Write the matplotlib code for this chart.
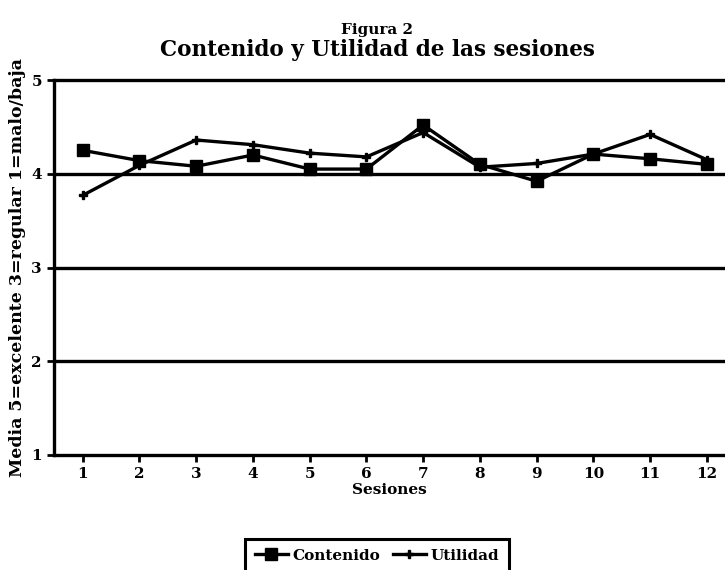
import matplotlib.pyplot as plt

plt.rcParams['font.family'] = ['DejaVu Serif']
plt.rcParams['font.weight'] = 'bold'

sesiones = [1, 2, 3, 4, 5, 6, 7, 8, 9, 10, 11, 12]
contenido = [4.25, 4.14, 4.08, 4.20, 4.05, 4.05, 4.52, 4.10, 3.92, 4.21, 4.16, 4.10]
utilidad = [3.77, 4.09, 4.36, 4.31, 4.22, 4.18, 4.44, 4.07, 4.11, 4.21, 4.42, 4.15]
y_ticks = [1, 2, 3, 4, 5]

fig = plt.figure(figsize=(7.25, 5.7), dpi=100)
ax = fig.add_axes([0.075, 0.2018, 0.925, 0.6578])

# lineas horizontales de referencia
for yv in [2, 3, 4]:
    ax.axhline(yv, color='black', lw=2.4, zorder=1)

ax.plot(sesiones, contenido, color='black', lw=2.4, marker='s', ms=8,
        zorder=3, label='Contenido')
ax.plot(sesiones, utilidad, color='black', lw=2.4, marker='P', ms=6,
        zorder=3, label='Utilidad')

ax.set_xlim(0.5, 12.32)
ax.set_ylim(1, 5)
ax.set_xticks(sesiones)
ax.set_yticks(y_ticks)
ax.tick_params(axis='both', direction='out', width=2, length=5,
               labelsize=11, pad=4)
for s in ['left', 'top', 'bottom']:
    ax.spines[s].set_linewidth(2.4)
ax.spines['right'].set_visible(False)

ax.set_xlabel('Sesiones', fontsize=11, fontweight='bold', labelpad=1)
ax.set_ylabel('Media 5=excelente 3=regular 1=malo/baja', fontsize=12.5,
              fontweight='bold', labelpad=4)

fig.text(0.52, 0.947, 'Figura 2', ha='center', va='center', fontsize=11,
         fontweight='bold')
fig.text(0.52, 0.913, 'Contenido y Utilidad de las sesiones', ha='center',
         va='center', fontsize=15.5, fontweight='bold')

leg = fig.legend(loc='upper center', bbox_to_anchor=(0.52, 0.067), ncol=2,
                 frameon=True, fancybox=False, fontsize=11, handlelength=2.2,
                 columnspacing=0.8, handletextpad=0.3, borderpad=0.6,
                 framealpha=1)
leg.get_frame().set_edgecolor('black')
leg.get_frame().set_linewidth(2.2)

fig.savefig('out.png', dpi=100)
